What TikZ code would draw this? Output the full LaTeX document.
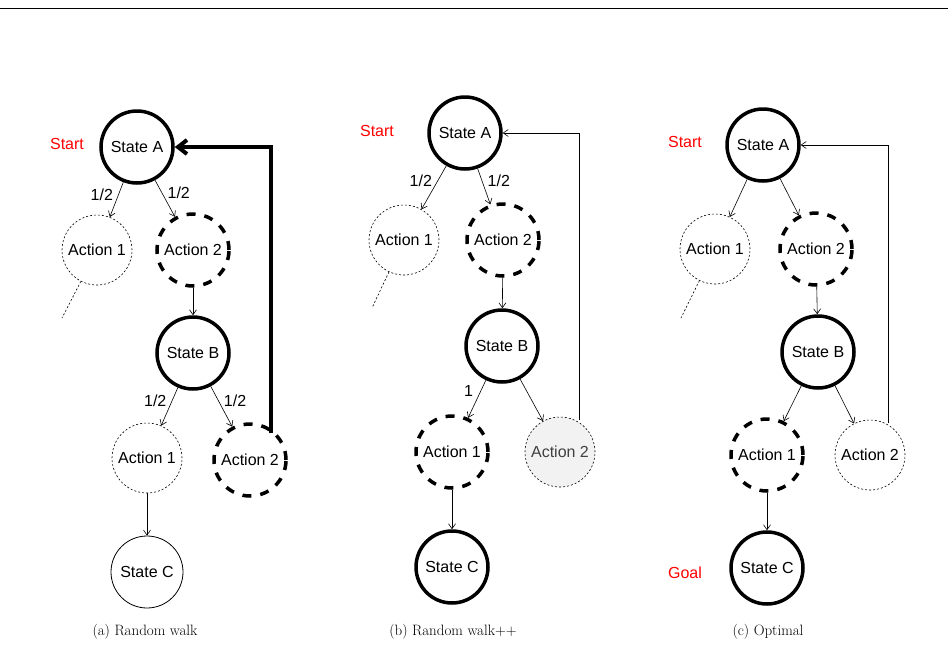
\documentclass[tikz,border=0pt]{standalone}
\usepackage{fontspec}
\setsansfont{Liberation Sans}
\usetikzlibrary{arrows.meta}
\begin{document}
\begin{tikzpicture}[x=1pt,y=-1pt,
  every node/.style={font=\sffamily\fontsize{16}{18}\selectfont},
  st/.style={circle,draw,line width=3.5pt,minimum size=72pt,inner sep=0pt},
  stplain/.style={circle,draw,line width=0.8pt,minimum size=72pt,inner sep=0pt},
  act/.style={circle,draw,dash pattern=on 2pt off 2pt,line width=0.6pt,minimum size=70pt,inner sep=0pt},
  chosen/.style={circle,draw,dash pattern=on 9pt off 9pt,line width=3.5pt,minimum size=72pt,inner sep=0pt},
  greyact/.style={act,fill=black!5,text=black!75},
  arr/.style={-{Straight Barb[length=5pt,width=7pt]},line width=0.6pt},
  lbl/.style={font=\sffamily\fontsize{16}{18}\selectfont},
  startlbl/.style={text=red},
  caption/.style={font=\rmfamily\fontsize{15}{17}\selectfont}]
\useasboundingbox (0,0) rectangle (948,667);
\draw[line width=0.6pt] (0,8) -- (948,8);
% (a) random walk
\node[st] (aA) at (137,147) {State A};
\node[act] (aA1) at (97,250) {Action 1};
\node[chosen] (aA2) at (193,250) {Action 2};
\node[st] (aB) at (193,353) {State B};
\node[act] (aB1) at (147,458) {Action 1};
\node[chosen] (aB2) at (250,460) {Action 2};
\node[stplain] (aC) at (147,572) {State C};
\node[startlbl] at (67,144) {Start};
\coordinate (aT) at (62,318);
\draw[arr] (aA) -- (aA1) node[lbl,pos=0.35,left=2pt] {1/2};
\draw[arr] (aA) -- (aA2) node[lbl,pos=0.35,right=2pt] {1/2};
\draw[arr] (aA2) -- (aB);
\draw[arr] (aB) -- (aB1) node[lbl,pos=0.35,left=2pt] {1/2};
\draw[arr] (aB) -- (aB2) node[lbl,pos=0.35,right=2pt] {1/2};
\draw[arr] (aB1) -- (aC);
\draw[dash pattern=on 2pt off 2pt,line width=0.6pt] (aA1) -- (aT);
\draw[-{Straight Barb[length=9pt,width=14pt]},line width=4pt] (aB2.north east) ++(-6,0) |- (aA);
% (b) random walk++
\node[st] (bA) at (465,133) {State A};
\node[act] (bA1) at (404,240) {Action 1};
\node[chosen] (bA2) at (503,240) {Action 2};
\node[st] (bB) at (502,346) {State B};
\node[chosen] (bB1) at (452,452) {Action 1};
\node[greyact] (bB2) at (560,452) {Action 2};
\node[st] (bC) at (452,567) {State C};
\node[startlbl] at (377,131) {Start};
\coordinate (bT) at (372,308);
\draw[arr] (bA) -- (bA1) node[lbl,pos=0.35,left=2pt] {1/2};
\draw[arr] (bA) -- (bA2) node[lbl,pos=0.35,right=2pt] {1/2};
\draw[arr] (bA2) -- (bB);
\draw[arr] (bB) -- (bB1) node[lbl,pos=0.3,left=4pt] {1};
\draw[arr] (bB) -- (bB2);
\draw[arr] (bB1) -- (bC);
\draw[dash pattern=on 2pt off 2pt,line width=0.6pt] (bA1) -- (bT);
\draw[arr] (579,420) |- (bA);
% (c) optimal
\node[st] (cA) at (763,145) {State A};
\node[act] (cA1) at (715,249) {Action 1};
\node[chosen] (cA2) at (816,249) {Action 2};
\node[st] (cB) at (818,352) {State B};
\node[chosen] (cB1) at (767,455) {Action 1};
\node[act] (cB2) at (870,455) {Action 2};
\node[st] (cC) at (767,568) {State C};
\node[startlbl] at (685,142) {Start};
\node[startlbl] at (685,573) {Goal};
\coordinate (cT) at (681,318);
\draw[arr] (cA) -- (cA1);
\draw[arr] (cA) -- (cA2);
\draw[arr] (cA2) -- (cB);
\draw[arr] (cB) -- (cB1);
\draw[arr] (cB) -- (cB2);
\draw[arr] (cB1) -- (cC);
\draw[dash pattern=on 2pt off 2pt,line width=0.6pt] (cA1) -- (cT);
\draw[arr] (888,423) |- (cA);
% captions
\node[caption] at (145,632) {(a) Random walk};
\node[caption] at (453,632) {(b) Random walk++};
\node[caption] at (768,632) {(c) Optimal};
\end{tikzpicture}
\end{document}
